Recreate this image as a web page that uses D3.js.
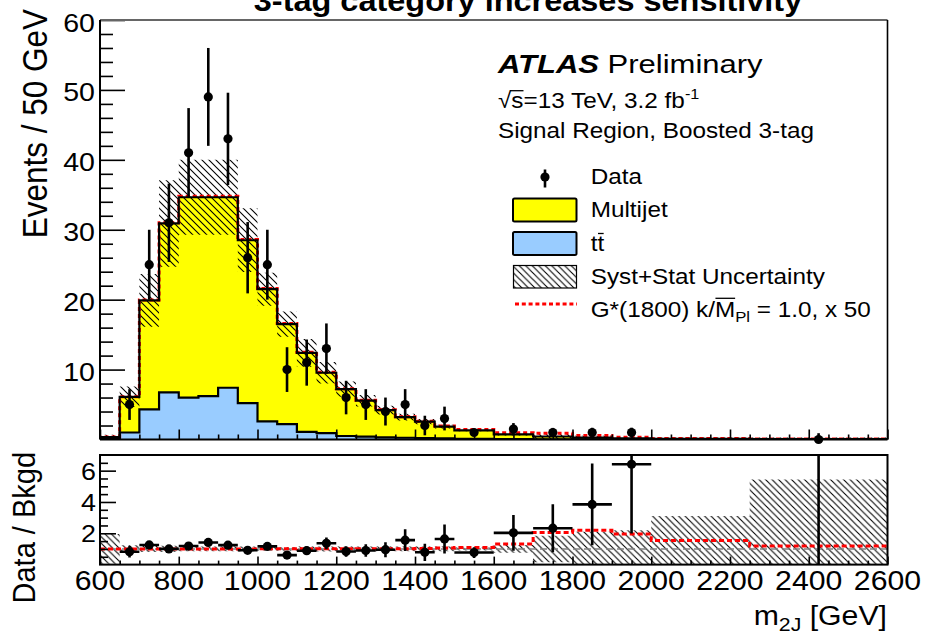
<!DOCTYPE html>
<html>
<head>
<meta charset="utf-8">
<script src="https://cdn.jsdelivr.net/npm/d3@7"></script>
<style>
  html, body { margin: 0; padding: 0; background: #fff; }
  svg { display: block; font-family: "Liberation Sans", Arial, Helvetica, sans-serif; }
</style>
</head>
<body>
<svg id="chart" width="925" height="634"></svg>
<script>
// ---- binning (GeV) ----
const binEdges = [600, 650, 700, 750, 800, 850, 900, 950, 1000, 1050, 1100, 1150, 1200, 1250,
                  1300, 1350, 1400, 1450, 1500, 1600, 1700, 1800, 1900, 2000, 2250, 2600];

// ---- stacked backgrounds, events / 50 GeV ----
const ttbar    = [0.05, 1.0, 4.3, 6.75, 6.0, 6.2, 7.4, 5.2, 2.6, 2.2, 1.1, 0.9, 0.5, 0.4,
                  0.3, 0.25, 0.2, 0.15, 0.1, 0.05, 0.03, 0.02, 0.01, 0.01, 0.005];
const multijet = [0.3, 5.1, 15.6, 24.15, 28.65, 28.45, 27.25, 23.3, 18.9, 14.3, 11.3, 8.65, 6.7, 5.15,
                  3.9, 2.95, 2.35, 1.68, 1.2, 0.69, 0.4, 0.24, 0.146, 0.08, 0.045];

// ---- G*(1800) signal x 50, events / 50 GeV ----
const signalX50 = [0, 0, 0.05, 0.1, 0.15, 0.15, 0.15, 0.12, 0.1, 0.08, 0.07, 0.06, 0.05, 0.05,
                   0.05, 0.06, 0.07, 0.1, 0.13, 0.23, 0.45, 0.31, 0.15, 0.048, 0.0095];

// ---- relative syst+stat uncertainty on the background ----
const bkgRelUnc = [0.95, 0.24, 0.19, 0.2, 0.155, 0.155, 0.155, 0.16, 0.11, 0.11, 0.16, 0.16, 0.15, 0.15,
                   0.15, 0.15, 0.15, 0.15, 0.1, 0.25, 0.85, 1.1, 1.2, 2.1, 4.44];

// ---- data, events / 50 GeV (null = no entry drawn) ----
const dataValues = [null, 5, 25, 31, 41, 49, 43, 26, 25, 10, 11, 13, 6, 5,
                    4, 5, 2, 3, 1.0, 1.5, 1.0, 1.0, 1.0, null, 0];
const dataErr    = [null, 2.2, 5, 5.6, 6.4, 7, 6.6, 5.1, 5, 3.2, 3.3, 3.6, 2.4, 2.2,
                    2, 2.2, 1.4, 1.7, 0.45, 0.85, 0.66, 0.68, 0.69, null, 0.9];

// ---- axis ticks / labels ----
const xTickLabels     = [600, 800, 1000, 1200, 1400, 1600, 1800, 2000, 2200, 2400, 2600];
const yTickLabels     = [10, 20, 30, 40, 50, 60];
const ratioTickLabels = [2, 4, 6];

const svg = d3.select("#chart");
const FONT = "'Liberation Sans', Arial, Helvetica, sans-serif";
const SX = 1.12; // horizontal glyph stretch of the canvas

const X0 = 100, X1 = 887.5;
const x = d3.scaleLinear().domain([600, 2600]).range([X0, X1]);
const yT = d3.scaleLinear().domain([0, 60]).range([439.5, 20]);
const yR = d3.scaleLinear().domain([0, 7]).range([564.6, 455]);

const nBins = binEdges.length - 1;
const total = multijet.map((m, i) => m + ttbar[i]);
const totalSig = total.map((t, i) => t + signalX50[i]);

// ---- defs: hatch + clips ----
const defs = svg.append("defs");
function hatch(id, s, w) {
  const p = defs.append("pattern").attr("id", id).attr("patternUnits", "userSpaceOnUse")
    .attr("width", s).attr("height", s);
  p.append("path").attr("d", `M0,0 L${s},${s} M${-s/2},${s/2} L${s/2},${s*1.5} M${s/2},${-s/2} L${s*1.5},${s/2}`)
    .attr("stroke", "#000").attr("stroke-width", w);
}
hatch("hatchTop", 7, 1.1);
hatch("hatchRatio", 6.5, 1.1);
hatch("hatchLeg", 6.5, 1.1);
defs.append("clipPath").attr("id", "clipTop").append("rect")
  .attr("x", X0).attr("y", 20).attr("width", X1 - X0).attr("height", 439.5 - 20);
defs.append("clipPath").attr("id", "clipRatio").append("rect")
  .attr("x", X0).attr("y", 455).attr("width", X1 - X0).attr("height", 564.6 - 455);

// ---- helpers ----
function stepPts(vals) {
  const p = vals.map((v, i) => [binEdges[i], v]);
  p.push([binEdges[nBins], vals[nBins - 1]]);
  return p;
}
function closedPts(vals, base) {
  return [[binEdges[0], base], ...stepPts(vals), [binEdges[nBins], base]];
}
function text(g, tx, ty, str, size, opts = {}) {
  const grp = g.append("g").attr("transform", `translate(${tx},${ty}) scale(${opts.sx || SX},1)${opts.rot ? " rotate(" + opts.rot + ")" : ""}`);
  const t = grp.append("text").attr("x", 0).attr("y", 0)
    .attr("font-size", size).attr("font-family", FONT)
    .attr("text-anchor", opts.anchor || "start")
    .attr("font-weight", opts.bold ? "bold" : "normal")
    .attr("font-style", opts.italic ? "italic" : "normal")
    .attr("fill", "#000");
  if (str !== null) t.text(str);
  return { grp, t };
}

// ================= main panel =================
const mainPanel = svg.append("g");
const mainPlot = mainPanel.append("g").attr("clip-path", "url(#clipTop)");

const areaT = (vals) => d3.area().x(d => x(d[0])).y0(yT(0)).y1(d => yT(d[1])).curve(d3.curveStepAfter)(stepPts(vals));
const lineT = (vals) => d3.line().x(d => x(d[0])).y(d => yT(d[1])).curve(d3.curveStepAfter)(closedPts(vals, 0));

mainPlot.append("path").attr("d", areaT(total)).attr("fill", "#ffff00");
mainPlot.append("path").attr("d", areaT(ttbar)).attr("fill", "#99ccff");

// uncertainty band
mainPlot.append("path")
  .attr("d", d3.area().x(d => x(d[0]))
    .y0(d => yT(Math.max(0, d[1] * (1 - d[2])))).y1(d => yT(d[1] * (1 + d[2])))
    .curve(d3.curveStepAfter)([...total.map((t, i) => [binEdges[i], t, bkgRelUnc[i]]),
      [binEdges[nBins], total[nBins - 1], bkgRelUnc[nBins - 1]]]))
  .attr("fill", "url(#hatchTop)");

// signal + background (dashed red)
mainPlot.append("path").attr("d", lineT(totalSig)).attr("fill", "none")
  .attr("stroke", "#ff0000").attr("stroke-width", 3).attr("stroke-dasharray", "4,3");

// outlines
mainPlot.append("path").attr("d", lineT(total)).attr("fill", "none").attr("stroke", "#000").attr("stroke-width", 2.2);
mainPlot.append("path").attr("d", lineT(ttbar)).attr("fill", "none").attr("stroke", "#000").attr("stroke-width", 2.2);

// data
const dataPts = dataValues.map((v, i) => ({ v, e: dataErr[i], c: (binEdges[i] + binEdges[i + 1]) / 2 }))
  .filter(d => d.v !== null);
const mainData = mainPanel.append("g");
mainData.selectAll("line.err").data(dataPts).join("line")
  .attr("x1", d => x(d.c)).attr("x2", d => x(d.c))
  .attr("y1", d => yT(d.v + d.e)).attr("y2", d => yT(Math.max(0, d.v - d.e)))
  .attr("stroke", "#000").attr("stroke-width", 2.6);
mainData.selectAll("circle").data(dataPts).join("circle")
  .attr("cx", d => x(d.c)).attr("cy", d => yT(d.v)).attr("r", 4.6).attr("fill", "#000");

// axes (ticks drawn inward)
const yMinor = d3.range(2, 60, 2).filter(v => v % 10 !== 0);
const xMinor = d3.range(600, 2601, 50).filter(v => v % 200 !== 0);
const ga = mainPanel.append("g").attr("transform", `translate(${X0},0)`);
ga.call(d3.axisLeft(yT).tickValues(yMinor).tickSize(-13).tickFormat(""));
ga.call(g => g.select(".domain").remove());
const ga2 = mainPanel.append("g").attr("transform", `translate(${X0},0)`);
ga2.call(d3.axisLeft(yT).tickValues(yTickLabels).tickSize(-25).tickFormat(""));
ga2.call(g => g.select(".domain").remove());
const gx = mainPanel.append("g").attr("transform", `translate(0,${yT(0)})`);
gx.call(d3.axisBottom(x).tickValues(xMinor).tickSize(-5).tickFormat(""));
gx.call(g => g.select(".domain").remove());
const gx2 = mainPanel.append("g").attr("transform", `translate(0,${yT(0)})`);
gx2.call(d3.axisBottom(x).tickValues(xTickLabels).tickSize(-10).tickFormat(""));
gx2.call(g => g.select(".domain").remove());
mainPanel.selectAll(".tick line").attr("stroke", "#000").attr("stroke-width", 1.6);

// frame
mainPanel.append("line").attr("x1", X0).attr("x2", X1).attr("y1", 20).attr("y2", 20).attr("stroke", "#666").attr("stroke-width", 2);
mainPanel.append("line").attr("x1", X1).attr("x2", X1).attr("y1", 20).attr("y2", yT(0)).attr("stroke", "#000").attr("stroke-width", 1.6);
mainPanel.append("line").attr("x1", X0).attr("x2", X0).attr("y1", 20).attr("y2", yT(0)).attr("stroke", "#000").attr("stroke-width", 2);
mainPanel.append("line").attr("x1", X0).attr("x2", X1).attr("y1", yT(0)).attr("y2", yT(0)).attr("stroke", "#000").attr("stroke-width", 2.2);

yTickLabels.forEach(v => text(mainPanel, 95, yT(v) + 11.5, String(v), 25.5, { anchor: "end" }));
text(svg, 47, 9, "Events / 50 GeV", 31.5, { anchor: "end", rot: -90, sx: 1.1 });

// ================= ratio panel =================
const ratPanel = svg.append("g");
const ratPlot = ratPanel.append("g").attr("clip-path", "url(#clipRatio)");

ratPlot.append("path")
  .attr("d", d3.area().x(d => x(d[0]))
    .y0(d => yR(Math.max(0, 1 - d[1]))).y1(d => yR(1 + d[1]))
    .curve(d3.curveStepAfter)([...bkgRelUnc.map((u, i) => [binEdges[i], u]), [binEdges[nBins], bkgRelUnc[nBins - 1]]]))
  .attr("fill", "url(#hatchRatio)");

ratPlot.append("line").attr("x1", X0).attr("x2", X1).attr("y1", yR(1)).attr("y2", yR(1))
  .attr("stroke", "#808080").attr("stroke-width", 1.6).attr("stroke-dasharray", "7,4");

const sigRatio = totalSig.map((s, i) => s / total[i]);
ratPlot.append("path")
  .attr("d", d3.line().x(d => x(d[0])).y(d => yR(d[1])).curve(d3.curveStepAfter)(stepPts(sigRatio)))
  .attr("fill", "none").attr("stroke", "#ff0000").attr("stroke-width", 3).attr("stroke-dasharray", "5,3");

const ratioPts = dataValues.map((v, i) => v === null ? null : ({
  r: v / total[i], e: dataErr[i] / total[i], lo: binEdges[i], hi: binEdges[i + 1],
  c: (binEdges[i] + binEdges[i + 1]) / 2
})).filter(d => d !== null);
ratPlot.selectAll("line.v").data(ratioPts).join("line")
  .attr("x1", d => x(d.c)).attr("x2", d => x(d.c))
  .attr("y1", d => yR(d.r + d.e)).attr("y2", d => yR(Math.max(0, d.r - d.e)))
  .attr("stroke", "#000").attr("stroke-width", 2.6);
ratPlot.selectAll("line.h").data(ratioPts.filter(d => d.r > 0)).join("line")
  .attr("x1", d => x(d.lo)).attr("x2", d => x(d.hi))
  .attr("y1", d => yR(d.r)).attr("y2", d => yR(d.r))
  .attr("stroke", "#000").attr("stroke-width", 2.6);
ratPlot.selectAll("circle").data(ratioPts.filter(d => d.r > 0)).join("circle")
  .attr("cx", d => x(d.c)).attr("cy", d => yR(d.r)).attr("r", 4.6).attr("fill", "#000");

const rMinor = d3.range(0.5, 7, 0.5).filter(v => v % 2 !== 0);
const gr = ratPanel.append("g").attr("transform", `translate(${X0},0)`);
gr.call(d3.axisLeft(yR).tickValues(rMinor).tickSize(-8).tickFormat(""));
gr.call(g => g.select(".domain").remove());
const gr2 = ratPanel.append("g").attr("transform", `translate(${X0},0)`);
gr2.call(d3.axisLeft(yR).tickValues(ratioTickLabels).tickSize(-16).tickFormat(""));
gr2.call(g => g.select(".domain").remove());
const grx = ratPanel.append("g").attr("transform", `translate(0,${yR(0)})`);
grx.call(d3.axisBottom(x).tickValues(xMinor).tickSize(-4).tickFormat(""));
grx.call(g => g.select(".domain").remove());
const grx2 = ratPanel.append("g").attr("transform", `translate(0,${yR(0)})`);
grx2.call(d3.axisBottom(x).tickValues(xTickLabels).tickSize(-8).tickFormat(""));
grx2.call(g => g.select(".domain").remove());
ratPanel.selectAll(".tick line").attr("stroke", "#000").attr("stroke-width", 1.6);

ratPanel.append("rect").attr("x", X0).attr("y", 455).attr("width", X1 - X0).attr("height", yR(0) - 455)
  .attr("fill", "none").attr("stroke", "#000").attr("stroke-width", 2);

ratioTickLabels.forEach(v => text(ratPanel, 96, yR(v) + 9, String(v), 24, { anchor: "end" }));
xTickLabels.forEach(v => text(ratPanel, x(v), 590, String(v), 27, { anchor: "middle" }));
text(svg, 35, 452, "Data / Bkgd", 29, { anchor: "end", rot: -90, sx: 1.1 });

// x title with subscript
{
  const { t } = text(svg, 887, 625, null, 27, { anchor: "end" });
  t.append("tspan").text("m");
  t.append("tspan").attr("font-size", 19).attr("dy", 6).text("2J");
  t.append("tspan").attr("dy", -6).text(" [GeV]");
}

// ================= title =================
text(svg, 528, 11, "3-tag category increases sensitivity", 29, { anchor: "middle", bold: true });

// ================= legend & labels =================
const leg = svg.append("g");
{
  const a = text(leg, 498, 73.3, null, 26.5, { sx: 1.17 });
  a.t.append("tspan").attr("font-weight", "bold").attr("font-style", "italic").text("ATLAS");
  a.t.append("tspan").text(" Preliminary");
}
{
  const s = text(leg, 498, 107.7, null, 22.5, { sx: 1.08 });
  s.t.append("tspan").text("\u221As=13 TeV, 3.2 fb");
  s.t.append("tspan").attr("font-size", 15).attr("dy", -9).text("-1");
  const node = s.t.node();
  const x1 = node.getSubStringLength(0, 1), x2 = node.getSubStringLength(0, 2);
  s.grp.append("line").attr("x1", x1 - 1).attr("x2", x2).attr("y1", -17).attr("y2", -17)
    .attr("stroke", "#000").attr("stroke-width", 1.3);
}
text(leg, 498, 138.3, "Signal Region, Boosted 3-tag", 22.5, { sx: 1.08 });

// entries
leg.append("line").attr("x1", 545).attr("x2", 545).attr("y1", 169.5).attr("y2", 187.5).attr("stroke", "#000").attr("stroke-width", 2.6);
leg.append("circle").attr("cx", 545).attr("cy", 177).attr("r", 4.6).attr("fill", "#000");
text(leg, 590.7, 184, "Data", 22.5, { sx: 1.08 });

leg.append("rect").attr("x", 513).attr("y", 198.5).attr("width", 63.5).attr("height", 23)
  .attr("fill", "#ffff00").attr("stroke", "#000").attr("stroke-width", 2).attr("rx", 1.5);
text(leg, 590.7, 217, "Multijet", 22.5, { sx: 1.08 });

leg.append("rect").attr("x", 513).attr("y", 232).attr("width", 63.5).attr("height", 23)
  .attr("fill", "#99ccff").attr("stroke", "#000").attr("stroke-width", 2).attr("rx", 1.5);
{
  const tt = text(leg, 590.7, 251, "tt", 22.5, { sx: 1.08 });
  const n = tt.t.node();
  const w1 = n.getSubStringLength(0, 1), w2 = n.getSubStringLength(0, 2);
  tt.grp.append("line").attr("x1", w1 + 0.5).attr("x2", w2 - 0.5).attr("y1", -17.5).attr("y2", -17.5)
    .attr("stroke", "#000").attr("stroke-width", 1.3);
}

leg.append("rect").attr("x", 513.5).attr("y", 265.5).attr("width", 63).attr("height", 22.5)
  .attr("fill", "url(#hatchLeg)").attr("stroke", "#000").attr("stroke-width", 1.2);
text(leg, 590.7, 284, "Syst+Stat Uncertainty", 22.5, { sx: 1.08 });

leg.append("line").attr("x1", 515).attr("x2", 577).attr("y1", 304).attr("y2", 304)
  .attr("stroke", "#ff0000").attr("stroke-width", 3).attr("stroke-dasharray", "4,2.8");
{
  const g = text(leg, 590.7, 317.3, null, 22.5, { sx: 1.08 });
  g.t.append("tspan").text("G*(1800) k/M");
  g.t.append("tspan").attr("font-size", 15.5).attr("dy", 5).text("Pl");
  g.t.append("tspan").attr("dy", -5).text(" = 1.0, x 50");
  const n = g.t.node();
  const a = n.getSubStringLength(0, 11), b = n.getSubStringLength(0, 12);
  g.grp.append("line").attr("x1", a + 0.5).attr("x2", b).attr("y1", -19).attr("y2", -19)
    .attr("stroke", "#000").attr("stroke-width", 1.3);
}
</script>
</body>
</html>
